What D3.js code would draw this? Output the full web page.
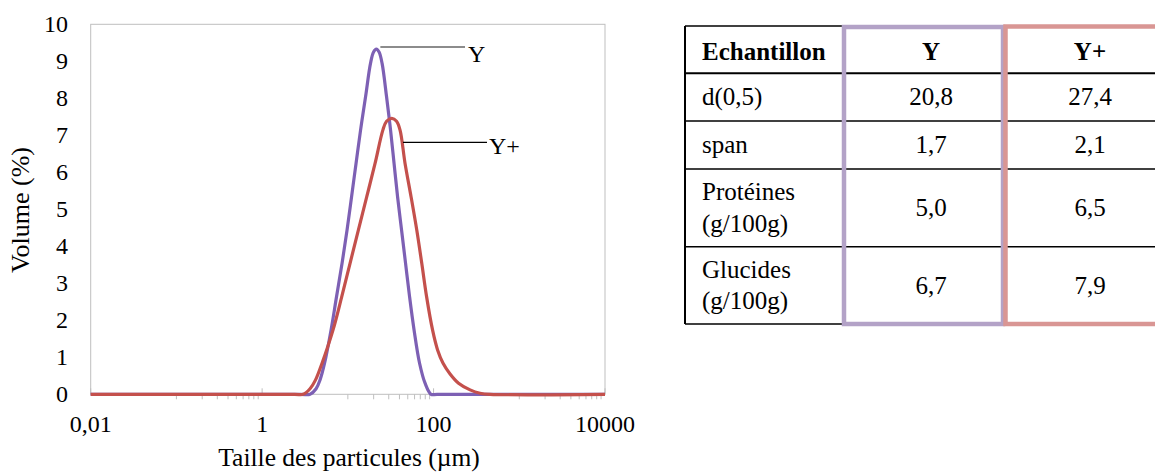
<!DOCTYPE html>
<html>
  <head>
    <meta charset="utf-8">
    <script src="https://d3js.org/d3.v7.min.js"></script>
    <style>
      body { margin: 0; background: #fff; }
      text { font-family: "Liberation Serif", "Times New Roman", serif; fill: #000; }
    </style>
  </head>

  <body>
    <div id="vis"></div>
  </body>

  <script>
    // Courbes granulometriques
    var ySizes = [0.01, 2.8, 3.62, 4.26, 4.74, 5.35, 6.37, 7.38, 8.56, 9.79, 11.05, 12.46, 14.07, 16.09, 18.4, 19.95, 21.51, 23.13, 25.06, 28.29, 31.5, 34.6, 38.02, 42.32, 47.13, 52.48, 59.22, 68.66, 79.58, 93.5, 110, 10000]
    var yVolume = [0, 0, 0, 0.15, 0.39, 0.84, 1.74, 2.64, 3.54, 4.44, 5.34, 6.24, 7.14, 8.04, 8.95, 9.25, 9.33, 9.25, 8.95, 8.04, 7.14, 6.24, 5.34, 4.44, 3.54, 2.64, 1.74, 0.84, 0.3, 0, 0, 0]

    var ypSizes = [0.01, 2.4, 3.0, 3.62, 4.2, 5.0, 6.72, 8.49, 10.61, 13.26, 16.62, 20.77, 25.61, 28.29, 32.54, 37.01, 40.65, 46.49, 54.63, 63.68, 72.83, 82.9, 97.3, 111.4, 129.1, 155.8, 195.7, 266.7, 348.9, 456.3, 10000]
    var ypVolume = [0, 0, 0, 0.15, 0.39, 0.84, 1.74, 2.64, 3.54, 4.44, 5.34, 6.24, 7.14, 7.38, 7.46, 7.38, 7.14, 6.24, 5.34, 4.44, 3.54, 2.64, 1.74, 1.2, 0.84, 0.55, 0.3, 0.12, 0.03, 0, 0]

    var seriesNames = ["Y", "Y+"]
    var xTickValues = [0.01, 1, 100, 10000]
    var xTickLabels = ["0,01", "1", "100", "10000"]
    var yTickValues = [0, 1, 2, 3, 4, 5, 6, 7, 8, 9, 10]

    // Tableau
    var tableHeader = ["Echantillon", "Y", "Y+"]
    var rowLabels = [["d(0,5)"], ["span"], ["Protéines", "(g/100g)"], ["Glucides", "(g/100g)"]]
    var colY = ["20,8", "1,7", "5,0", "6,7"]
    var colYPlus = ["27,4", "2,1", "6,5", "7,9"]

    var svg = d3.select("#vis")
      .append("svg")
      .attr("width", 1155)
      .attr("height", 473)

    // ---- graphique ----
    var plot = {left: 90.7, right: 605, top: 24.3, bottom: 394.3}

    var x = d3.scaleLog().domain([0.01, 10000]).range([plot.left, plot.right])
    var y = d3.scaleLinear().domain([0, 10]).range([plot.bottom, plot.top])

    // cadre de la zone de tracé
    svg.append("rect")
      .attr("x", plot.left)
      .attr("y", plot.top)
      .attr("width", plot.right - plot.left)
      .attr("height", plot.bottom - plot.top)
      .attr("fill", "none")
      .attr("stroke", "#bfbfbf")
      .attr("stroke-width", 1)

    // graduations mineures (sous l'axe)
    var minorTicks = []
    ;[0.1, 10, 1000].forEach(function(b) {
      for (var k = 1; k <= 9; k++) minorTicks.push(b * k)
    })
    svg.selectAll(".minor")
      .data(minorTicks)
      .enter()
      .append("line")
      .attr("x1", function(d) { return x(d) })
      .attr("x2", function(d) { return x(d) })
      .attr("y1", plot.bottom)
      .attr("y2", plot.bottom + 5)
      .attr("stroke", "#bfbfbf")
      .attr("stroke-width", 1)

    // graduations principales (au-dessus de l'axe)
    svg.selectAll(".major")
      .data(xTickValues)
      .enter()
      .append("line")
      .attr("x1", function(d) { return x(d) })
      .attr("x2", function(d) { return x(d) })
      .attr("y1", plot.bottom)
      .attr("y2", plot.bottom - 6)
      .attr("stroke", "#bfbfbf")
      .attr("stroke-width", 1)

    svg.selectAll(".xlab")
      .data(xTickValues)
      .enter()
      .append("text")
      .attr("x", function(d) { return x(d) })
      .attr("y", 432)
      .attr("text-anchor", "middle")
      .style("font-size", "24px")
      .text(function(d, i) { return xTickLabels[i] })

    svg.selectAll(".ylab")
      .data(yTickValues)
      .enter()
      .append("text")
      .attr("x", 68)
      .attr("y", function(d) { return y(d) })
      .attr("dy", "0.33em")
      .attr("text-anchor", "end")
      .style("font-size", "24px")
      .text(function(d) { return d })

    svg.append("text")
      .attr("x", 349)
      .attr("y", 466)
      .attr("text-anchor", "middle")
      .style("font-size", "25.5px")
      .text("Taille des particules (µm)")

    svg.append("text")
      .attr("transform", "translate(29,210) rotate(-90)")
      .attr("text-anchor", "middle")
      .style("font-size", "26px")
      .text("Volume (%)")

    // courbes
    var line = d3.line()
      .x(function(d) { return x(d[0]) })
      .y(function(d) { return y(d[1]) })
      .curve(d3.curveCatmullRom.alpha(0.5))

    var series = [
      {name: seriesNames[0], pts: d3.zip(ySizes, yVolume), color: "#7d60b4"},
      {name: seriesNames[1], pts: d3.zip(ypSizes, ypVolume), color: "#c4504c"}
    ]

    svg.selectAll(".curve")
      .data(series)
      .enter()
      .append("path")
      .attr("d", function(d) { return line(d.pts) })
      .attr("fill", "none")
      .attr("stroke", function(d) { return d.color })
      .attr("stroke-width", 3.2)

    // étiquettes des séries
    var peakY = series[0].pts[d3.maxIndex(yVolume)]
    svg.append("line")
      .attr("x1", x(peakY[0]) + 4).attr("x2", 465)
      .attr("y1", y(peakY[1]) - 2).attr("y2", y(peakY[1]) - 2)
      .attr("stroke", "#666").attr("stroke-width", 1.5)
    svg.append("text")
      .attr("x", 468).attr("y", y(peakY[1]) + 5)
      .attr("dy", "0.33em")
      .style("font-size", "24px")
      .text(seriesNames[0])

    svg.append("line")
      .attr("x1", 403).attr("x2", 487)
      .attr("y1", y(6.81)).attr("y2", y(6.81))
      .attr("stroke", "#000").attr("stroke-width", 1.2)
    svg.append("text")
      .attr("x", 489).attr("y", y(6.81) + 4)
      .attr("dy", "0.33em")
      .style("font-size", "24px")
      .text(seriesNames[1])

    // ---- tableau ----
    var colX = [685, 844, 1005.5, 1165]
    var colCenter = [702, 931, 1090]
    var rowY = [26, 73.3, 121, 169, 246.7, 324]
    var table = svg.append("g")

    // lignes horizontales
    table.selectAll(".hl")
      .data(rowY)
      .enter()
      .append("line")
      .attr("x1", colX[0]).attr("x2", 1155)
      .attr("y1", function(d) { return d }).attr("y2", function(d) { return d })
      .attr("stroke", "#000")
      .attr("stroke-width", function(d, i) { return (i == 1) ? 2 : 1.5 })

    table.append("line")
      .attr("x1", colX[0]).attr("x2", colX[0])
      .attr("y1", rowY[0]).attr("y2", rowY[rowY.length - 1])
      .attr("stroke", "#000").attr("stroke-width", 2)

    // cadres colorés
    table.append("rect")
      .attr("x", colX[1]).attr("y", 27)
      .attr("width", 1003 - colX[1]).attr("height", 324 - 27)
      .attr("fill", "none").attr("stroke", "#b3a2c7").attr("stroke-width", 4.5)
    table.append("rect")
      .attr("x", colX[2]).attr("y", 26.5)
      .attr("width", colX[3] - colX[2]).attr("height", 324 - 26.5)
      .attr("fill", "none").attr("stroke", "#d99694").attr("stroke-width", 4.5)

    // en-tête
    tableHeader.forEach(function(h, i) {
      table.append("text")
        .attr("x", colCenter[i])
        .attr("y", (rowY[0] + rowY[1]) / 2 + 2)
        .attr("dy", "0.33em")
        .attr("text-anchor", i == 0 ? "start" : "middle")
        .style("font-size", "25px")
        .style("font-weight", "bold")
        .text(h)
    })

    // lignes de données
    rowLabels.forEach(function(lbl, r) {
      var cy = (rowY[r + 1] + rowY[r + 2]) / 2
      lbl.forEach(function(t, j) {
        table.append("text")
          .attr("x", colCenter[0])
          .attr("y", cy + (j - (lbl.length - 1) / 2) * 31.5)
          .attr("dy", "0.33em")
          .style("font-size", "25px")
          .text(t)
      })
      ;[colY[r], colYPlus[r]].forEach(function(v, c) {
        table.append("text")
          .attr("x", colCenter[c + 1])
          .attr("y", cy)
          .attr("dy", "0.33em")
          .attr("text-anchor", "middle")
          .style("font-size", "25px")
          .text(v)
      })
    })
  </script>
</html>
